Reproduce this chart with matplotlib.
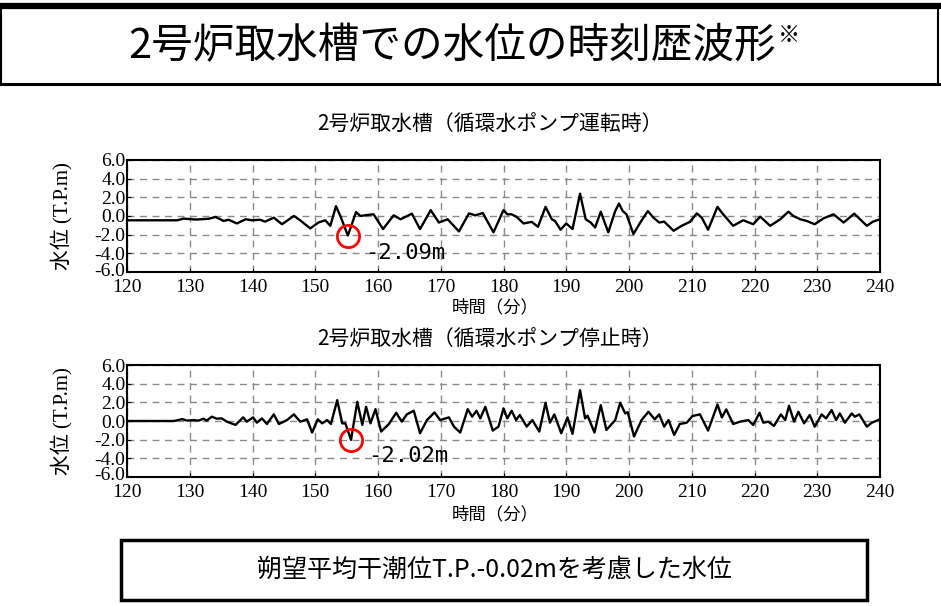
import matplotlib
matplotlib.use("Agg")
import matplotlib.pyplot as plt
from matplotlib.patches import Rectangle
from matplotlib.lines import Line2D
from matplotlib.transforms import ScaledTranslation

plt.rcParams['font.family'] = ['Noto Sans CJK JP', 'DejaVu Sans']

W, H = 941, 606

# 循環水ポンプ運転時 (time [min], water level [T.P.m])
t_run = [120, 128, 129, 131, 133, 134.1, 135.4, 136.2, 137.5, 138.9, 139.9, 141.2, 142,
         143.4, 144.7, 146.6, 147.6, 149.2, 150.5, 151.6, 152.4, 153.3, 154, 155.2, 156.5,
         157.2, 158.2, 159.3, 160.8, 162.5, 163.6, 165.4, 166.7, 168.4, 169.7, 171.1, 172.9,
         174.5, 175.5, 176.7, 178.4, 180, 180.6, 181.3, 182.1, 183.2, 184.5, 185.5, 186.7,
         187.7, 188.2, 189.1, 190, 191, 192.2, 193.1, 193.9, 194.6, 195.5, 196.7, 197.8,
         198.4, 199, 199.6, 200.7, 201.8, 203, 203.9, 204.8, 205.6, 207.1, 208.4, 209.7,
         210.8, 211.6, 212.6, 214.1, 215, 216.6, 218.2, 219.8, 220.9, 222.5, 224.1, 225.4,
         226.2, 227.3, 228.3, 229.6, 231, 232.6, 234.2, 235.9, 237.9, 238.9, 240]
wl_run = [-0.46, -0.46, -0.28, -0.38, -0.3, -0.1, -0.53, -0.4, -0.8, -0.35, -0.46, -0.4, -0.6,
          -0.18, -0.88, 0.0, -0.46, -1.33, -0.7, -0.46, -1.05, 1.05, 0.0, -2.09, 0.42,
          0.0, 0.1, 0.18, -1.4, 0.07, -0.35, 0.25, -1.4, 0.63, -0.7, -0.35, -1.65,
          0.28, 0.07, 0.32, -1.75, 0.63, 0.18, 0.18, -0.1, -0.8, -0.63, -1.16, 0.98,
          -0.35, -0.53, -1.47, -0.8, -1.4, 2.39, -0.35, -0.7, -1.23, 0.46, -1.75, 0.53,
          1.33, 0.53, 0.18, -1.93, -0.7, 0.53, -0.18, -0.7, -0.6, -1.58, -1.05, -0.63,
          0.28, -0.18, -1.47, 0.98, 0.18, -1.05, -0.46, -0.88, -0.07, -1.05, -0.35, 0.46,
          0.0, -0.35, -0.53, -0.88, -0.25, 0.18, -0.7, 0.25, -1.05, -0.6, -0.35]

# 循環水ポンプ停止時
t_stop = [120, 127.5, 128.8, 129.6, 130.6, 131.4, 132.2, 132.7, 133.5, 134.3, 135.1, 135.9,
          137.3, 138.5, 139.1, 140.1, 140.7, 141.5, 142.3, 143.4, 144.2, 145, 145.5, 146.6,
          147.6, 148.7, 149.5, 150.4, 151.1, 151.9, 152.5, 153.5, 154.3, 154.8, 155.7, 156.7,
          157.5, 158.1, 158.8, 159.6, 160.5, 161.7, 162.9, 163.8, 164.6, 165.7, 166.7, 167.8,
          169, 169.9, 171.3, 172.1, 173.1, 174.3, 175, 175.7, 176.3, 177.1, 178.3, 179.2,
          180, 180.6, 181.3, 182, 182.6, 183.7, 184.6, 185.7, 186.7, 187.4, 188.1, 189.2,
          190.2, 191, 192.2, 193, 193.4, 194.5, 195.5, 196.4, 197.8, 198.6, 199.4, 199.8,
          200.8, 202, 203.1, 204.1, 204.8, 205.6, 206.3, 207.2, 208.1, 209.2, 210.1, 211.3,
          212.6, 214.1, 214.8, 215.5, 216.6, 217.7, 219, 219.8, 220.8, 221.4, 222.2, 223.1,
          224.2, 224.9, 225.5, 226.3, 227, 227.9, 228.8, 229.6, 230.7, 231.4, 232.3, 233,
          233.6, 234.4, 235.5, 236, 236.7, 237.9, 238.7, 240]
wl_stop = [0, 0, 0.2, 0.04, 0.1, 0.04, 0.25, 0.04, 0.46, 0.25, 0.28, -0.07,
           -0.42, 0.39, -0.07, 0.39, -0.18, 0.28, -0.32, 0.71, -0.32, -0.07, 0.1, 0.71,
           -0.07, 0.18, -1.24, 0.18, -0.25, 0.1, -0.32, 2.23, -0.25, -0.25, -2.02, 2.05,
           -0.42, 1.52, -0.25, 1.27, -1.13, -0.35, 0.88, -0.07, 0.71, 1.1, -1.31, 0.1,
           0.92, 0.1, 0.39, -0.6, -1.24, 1.27, 0.46, 1.1, 0.28, 1.52, -1.03, -0.6,
           1.35, 0.28, 1.1, 0.1, 0.64, -0.6, 0.1, -1.13, 1.95, -0.18, 0.71, -1.31,
           0.39, -1.38, 3.3, 0.28, 0.57, -1.24, 1.7, -0.96, 0.1, 1.95, 0.81, 0.95,
           -1.66, 0.1, 0.99, 0.18, 0.71, -0.6, 0.1, -1.49, -0.32, -0.18, 0.53, 0.71,
           -1.03, 1.77, 0.39, 1.24, -0.32, -0.07, 0.1, -0.42, 0.88, -0.18, -0.07, -0.53,
           0.71, 0.1, 1.63, -0.07, 0.99, -0.25, 0.64, -0.6, 0.71, 0.28, 1.17, 0.1,
           0.81, -0.18, 0.81, 0.46, 0.71, -0.6, -0.18, 0.18]

x_ticks = list(range(120, 241, 10))
y_ticks = [-6, -4, -2, 0, 2, 4, 6]

min_run = (155.2, -2.09)
min_stop = (155.7, -2.02)
label_run = "-2.09m"
label_stop = "-2.02m"

title = "2号炉取水槽での水位の時刻歴波形"
title_run = "2号炉取水槽（循環水ポンプ運転時）"
title_stop = "2号炉取水槽（循環水ポンプ停止時）"
note = "朔望平均干潮位T.P.-0.02mを考慮した水位"

serif = ['Liberation Serif', 'Noto Sans CJK JP']


def fx(x):
    return x / W


def fy(y):
    return 1 - y / H


fig = plt.figure(figsize=(W / 100, H / 100), dpi=100)

# title frame
fig.add_artist(Line2D([0, 1], [fy(6), fy(6)], color='black', lw=4.5))
fig.add_artist(Line2D([fx(1), fx(1)], [fy(6), fy(84)], color='black', lw=1.5))
fig.add_artist(Line2D([fx(938), fx(938)], [fy(6), fy(84)], color='black', lw=1.5))
fig.add_artist(Line2D([0, 1], [fy(84), fy(84)], color='black', lw=2.2))
fig.text(fx(452), fy(47), title, fontsize=30, ha='center', va='center')
fig.text(fx(778), fy(35), "※", fontsize=16, ha='left', va='center')


def draw_panel(bottom_px, t, wl, mn, lab, sub_title, sub_y, xlab_y, lab_pos):
    top_px = bottom_px - 112
    ax = fig.add_axes([fx(127), fy(bottom_px), fx(880) - fx(127), (bottom_px - top_px) / H])
    ax.plot(t, wl, color='black', lw=1.7, solid_joinstyle='round')
    ax.set_xlim(120, 240)
    ax.set_ylim(-6, 6)
    ax.set_xticks(x_ticks)
    ax.set_yticks(y_ticks)
    ax.set_xticklabels([str(v) for v in x_ticks], fontfamily=serif, fontsize=14)
    ax.set_yticklabels(["%.1f" % v for v in y_ticks], fontfamily=serif, fontsize=14)
    ax.tick_params(direction='in', length=3, width=0.8, pad=1)
    ax.tick_params(axis='x', pad=5)
    # lift the lowest y label a little so it clears the first x label
    low = ax.get_yticklabels()[0]
    low.set_transform(low.get_transform() + ScaledTranslation(0, 3 / 100, fig.dpi_scale_trans))
    ax.grid(True, color='#8a8a8a', linestyle=(0, (5, 4)), lw=1)
    for s in ax.spines.values():
        s.set_linewidth(1.5)
    ax.plot([mn[0]], [mn[1]], marker='o', markersize=16, mfc='none', mec='#ff0000', mew=2)
    ax.text(lab_pos[0], lab_pos[1], lab, fontsize=16, fontfamily='DejaVu Sans Mono',
            ha='left', va='center')
    fig.text(fx(490), fy(sub_y), sub_title, fontsize=15, ha='center', va='center')
    fig.text(fx(495), fy(xlab_y), "時間（分）", fontsize=12.5, ha='center', va='center')
    fig.text(fx(62), fy((top_px + bottom_px) / 2), "水位 (T.P.m)", fontsize=15, family=serif,
             rotation=90, ha='center', va='center')
    return ax


draw_panel(272, t_run, wl_run, min_run, label_run, title_run, 125, 307, (158, -4.0))
draw_panel(477, t_stop, wl_stop, min_stop, label_stop, title_stop, 340, 514, (158.4, -3.7))

# note box
fig.add_artist(Rectangle((fx(121), fy(600)), fx(867) - fx(121), (600 - 540) / H,
                         fill=False, edgecolor='black', lw=2.5))
fig.text(fx(494), fy(570), note, fontsize=18, ha='center', va='center')

fig.savefig("out.png", dpi=100)
